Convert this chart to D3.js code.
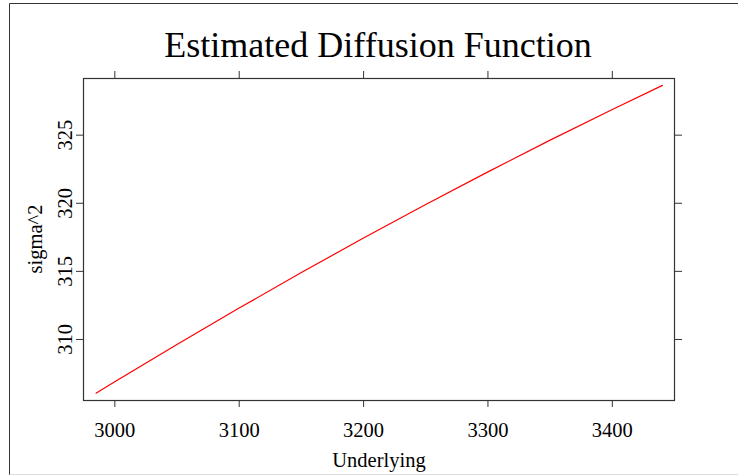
<!DOCTYPE html>
<html><head><meta charset="utf-8">
<script src="https://cdn.jsdelivr.net/npm/d3@7"></script>
<style>
html,body{margin:0;padding:0;background:#fff;}
svg{display:block;}
svg text{font-family:"Liberation Serif","Times New Roman",serif !important;fill:#000;}
</style></head>
<body>
<svg id="chart" width="738" height="475"></svg>
<script>
// Data
const underlying = [2985, 3000, 3050, 3100, 3150, 3200, 3250, 3300, 3350, 3400, 3441];
const sigma2     = [306.00, 306.84, 309.58, 312.25, 314.86, 317.39, 319.86, 322.25, 324.58, 326.83, 328.63];
const xTicks = [3000, 3100, 3200, 3300, 3400];
const yTicks = [310, 315, 320, 325];
const xDomain = [2974.8, 3450.0];
const yDomain = [305.52, 329.16];

const svg = d3.select("#chart");
const panel = {left: 83, top: 78, right: 674, bottom: 400};

// outer frame
svg.append("line").attr("x1", 9.5).attr("y1", 3.5).attr("x2", 738).attr("y2", 3.5).attr("stroke", "#333").attr("stroke-width", 1);
svg.append("line").attr("x1", 9.5).attr("y1", 3.5).attr("x2", 9.5).attr("y2", 475).attr("stroke", "#333").attr("stroke-width", 1);
svg.append("line").attr("x1", 9.5).attr("y1", 474.5).attr("x2", 738).attr("y2", 474.5).attr("stroke", "#ddd").attr("stroke-width", 1);

const x = d3.scaleLinear().domain(xDomain).range([panel.left, panel.right]);
const y = d3.scaleLinear().domain(yDomain).range([panel.bottom, panel.top]);

const tickLen = 7;
function styleAxis(g){
  g.attr("font-family", "Liberation Serif").attr("font-size", 20.5);
  g.select(".domain").remove();
  g.selectAll(".tick line").attr("stroke", "#333").attr("stroke-width", 1);
  g.selectAll(".tick text").attr("font-family", "Liberation Serif").attr("font-size", 20.5);
}

// bottom axis
svg.append("g").attr("transform", `translate(0,${panel.bottom})`)
  .call(d3.axisBottom(x).tickValues(xTicks).tickSize(tickLen).tickPadding(15).tickFormat(d3.format("d")))
  .call(styleAxis);
// top axis ticks only
svg.append("g").attr("transform", `translate(0,${panel.top})`)
  .call(d3.axisTop(x).tickValues(xTicks).tickSize(tickLen).tickFormat(""))
  .call(styleAxis);
// left axis with rotated labels
const gl = svg.append("g").attr("transform", `translate(${panel.left},0)`)
  .call(d3.axisLeft(y).tickValues(yTicks).tickSize(tickLen).tickPadding(3).tickFormat(d3.format("d")))
  .call(styleAxis);
gl.selectAll(".tick text")
  .attr("x", null).attr("dy", null)
  .attr("text-anchor", "middle")
  .attr("transform", "translate(-11,0) rotate(-90)");
// right axis ticks only
svg.append("g").attr("transform", `translate(${panel.right},0)`)
  .call(d3.axisRight(y).tickValues(yTicks).tickSize(tickLen+1).tickFormat(""))
  .call(styleAxis);

// panel box
svg.append("rect").attr("x", panel.left + 0.5).attr("y", panel.top + 0.5)
  .attr("width", panel.right - panel.left).attr("height", panel.bottom - panel.top)
  .attr("fill", "none").attr("stroke", "#333").attr("stroke-width", 1.2);

// line
const pts = underlying.map((u, i) => [u, sigma2[i]]);
svg.append("path").datum(pts)
  .attr("fill", "none").attr("stroke", "#ff0000").attr("stroke-width", 1.2)
  .attr("d", d3.line().x(d => x(d[0])).y(d => y(d[1])).curve(d3.curveMonotoneX));

// title
svg.append("text").attr("x", 378).attr("y", 57).attr("text-anchor", "middle")
  .style("font-size", "36px").text("Estimated Diffusion Function");
// x label
svg.append("text").attr("x", 379).attr("y", 467).attr("text-anchor", "middle")
  .style("font-size", "20.5px").text("Underlying");
// y label
svg.append("text").attr("transform", `translate(42,${(panel.top + panel.bottom) / 2}) rotate(-90)`)
  .attr("text-anchor", "middle").style("font-size", "20.5px").text("sigma^2");
</script>
</body></html>
